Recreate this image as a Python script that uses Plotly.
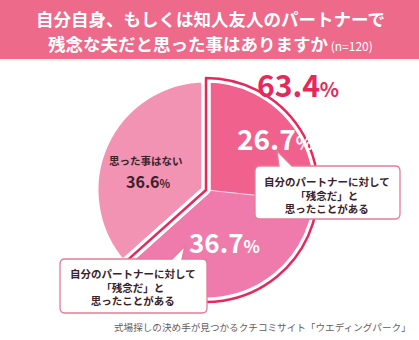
import plotly.graph_objects as go

# ---- data ----
slice_labels = ["自分のパートナーに対して「残念だ」と思ったことがある（自分）",
                "自分のパートナーに対して「残念だ」と思ったことがある",
                "思った事はない"]
slice_values = [26.7, 36.7, 36.6]
group_values = [round(slice_values[0] + slice_values[1], 1), slice_values[2]]
title_lines = ["自分自身、もしくは知人友人のパートナーで", "残念な夫だと思った事はありますか"]
sample_note = "(n=120)"
callout_lines = ["自分のパートナーに対して", "「残念だ」と", "思ったことがある"]
no_label = "思った事はない"
footer = "式場探しの決め手が見つかるクチコミサイト「ウエディングパーク」"

W, H = 419, 340
FONT = "Noto Sans CJK JP"
CRIMSON = "#E8285A"
DARK = "#3A2228"


def px(x):
    return x / W


def py(y):
    return 1 - y / H


# pie geometry (pixels)
cx, cy, R = 206, 190, 112
dom = dict(x=[px(cx - R), px(cx + R)], y=[py(cy + R), py(cy - R)])

fig = go.Figure()
fig.add_trace(go.Pie(values=slice_values, labels=slice_labels, sort=False, direction="clockwise",
                     rotation=0, domain=dom, textinfo="none", hoverinfo="skip", showlegend=False,
                     marker=dict(colors=["#F0628D", "#EE7BAC", "#F293B4"],
                                 line=dict(color="white", width=0.5))))
fig.add_trace(go.Pie(values=group_values, labels=["g1", "g2"], sort=False, direction="clockwise",
                     rotation=0, domain=dom, textinfo="none", hoverinfo="skip", showlegend=False,
                     marker=dict(colors=["rgba(0,0,0,0)", "rgba(0,0,0,0)"],
                                 line=dict(color="white", width=9))))
fig.add_trace(go.Pie(values=group_values, labels=["h1", "h2"], sort=False, direction="clockwise",
                     rotation=0, domain=dom, textinfo="none", hoverinfo="skip", showlegend=False,
                     marker=dict(colors=["rgba(0,0,0,0)", "rgba(0,0,0,0)"],
                                 line=dict(color=[CRIMSON, "rgba(0,0,0,0)"], width=[2.5, 0]))))

shapes = []
# title band
shapes.append(dict(type="rect", xref="paper", yref="paper", x0=0, x1=1, y0=py(59), y1=1,
                   fillcolor="#EE6A8B", line=dict(width=0), layer="below"))
shapes.append(dict(type="line", xref="paper", yref="paper", x0=0, x1=1, y0=py(60.5), y1=py(60.5),
                   line=dict(color="#F6F1E6", width=1.5)))


def callout(x0, y0, x1, y1, base_l, base_r, tip, r=5):
    def P(x, y):
        return f"{px(x):.5f},{py(y):.5f}"
    d = (f"M {P(x0 + r, y0)} L {P(base_l, y0)} L {P(*tip)} L {P(base_r, y0)} "
         f"L {P(x1 - r, y0)} Q {P(x1, y0)} {P(x1, y0 + r)} "
         f"L {P(x1, y1 - r)} Q {P(x1, y1)} {P(x1 - r, y1)} "
         f"L {P(x0 + r, y1)} Q {P(x0, y1)} {P(x0, y1 - r)} "
         f"L {P(x0, y0 + r)} Q {P(x0, y0)} {P(x0 + r, y0)} Z")
    return dict(type="path", xref="paper", yref="paper", path=d, fillcolor="white",
                line=dict(color="#E37C98", width=1.3))


shapes.append(callout(255, 166, 400, 219, 279, 292, (277, 151)))
shapes.append(callout(60, 259, 207, 313, 172, 182, (185, 246)))

ann = []


def text(x, y, s, size, color, anchor="center", bold=False):
    if bold:
        s = f"<b>{s}</b>"
    ann.append(dict(x=px(x), y=py(y), xref="paper", yref="paper", text=s, showarrow=False,
                    xanchor=anchor, yanchor="middle", font=dict(family=FONT, size=size, color=color)))


text(210, 18, title_lines[0], 17.5, "white", bold=True)
ann.append(dict(x=px(210), y=py(44), xref="paper", yref="paper", showarrow=False,
                xanchor="center", yanchor="middle",
                text=f"<b>{title_lines[1]}</b><span style='font-size:12px'> {sample_note}</span>",
                font=dict(family=FONT, size=17.5, color="white")))

pct = lambda v, big, small: f"<b>{v:.1f}<span style='font-size:{small}px'>%</span></b>"
ann.append(dict(x=px(298), y=py(84), xref="paper", yref="paper", showarrow=False,
                xanchor="center", yanchor="middle", text=pct(group_values[0], 30, 20),
                font=dict(family=FONT, size=30, color=CRIMSON)))
ann.append(dict(x=px(275), y=py(138), xref="paper", yref="paper", showarrow=False,
                xanchor="center", yanchor="middle", text=pct(slice_values[0], 28, 18),
                font=dict(family=FONT, size=28, color="white")))
ann.append(dict(x=px(224), y=py(241), xref="paper", yref="paper", showarrow=False,
                xanchor="center", yanchor="middle", text=pct(slice_values[1], 26, 17),
                font=dict(family=FONT, size=26, color="white")))
text(146, 160, no_label, 10.5, DARK, bold=True)
ann.append(dict(x=px(148), y=py(181), xref="paper", yref="paper", showarrow=False,
                xanchor="center", yanchor="middle", text=pct(slice_values[2], 16, 11),
                font=dict(family=FONT, size=16, color=DARK)))

callout_text = "<br>".join(f"<b>{s}</b>" for s in callout_lines)
for (cxx, yy) in [(327, 194.5), (133, 286.5)]:
    ann.append(dict(x=px(cxx), y=py(yy), xref="paper", yref="paper", showarrow=False,
                    xanchor="center", yanchor="middle", align="center", text=callout_text,
                    font=dict(family=FONT, size=10.5, color=DARK)))

text(413, 327, footer, 9.6, "#6A5A5C", anchor="right")

fig.update_layout(width=W, height=H, margin=dict(l=0, r=0, t=0, b=0),
                  paper_bgcolor="white", plot_bgcolor="white",
                  shapes=shapes, annotations=ann, showlegend=False)
fig.write_html("out.html")
